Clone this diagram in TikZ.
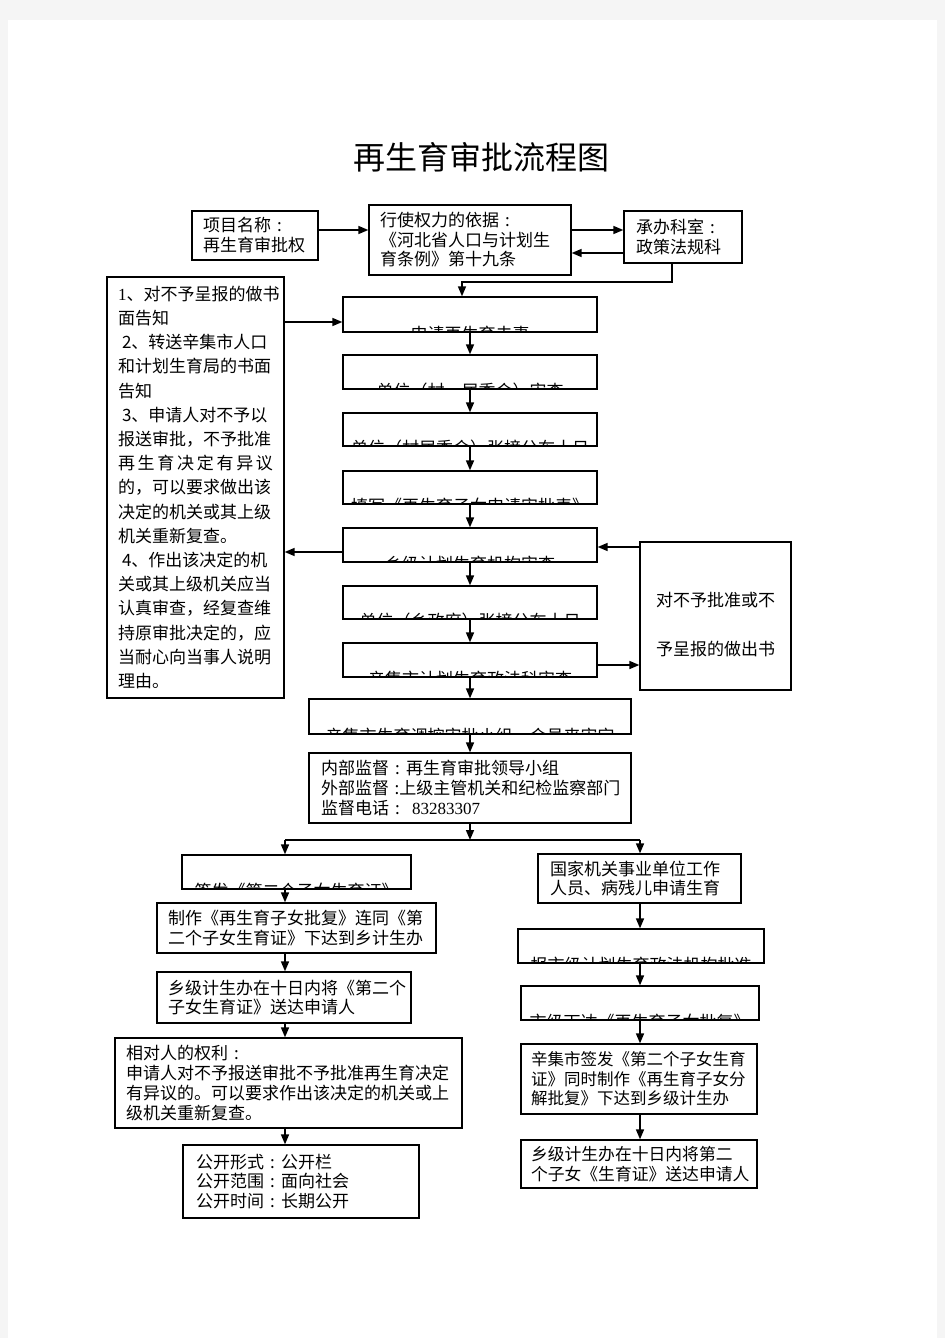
\documentclass[tikz,border=0pt]{standalone}
\usepackage{fontspec}
\setmainfont{Noto Sans CJK SC}
\newfontfamily\latserif{Liberation Serif}
\usetikzlibrary{arrows.meta}
\newcommand\qcolon{\makebox[1em][c]{:}}
\newcommand\clippedtext[3]{%
  \begin{scope}
    \clip ([xshift=1pt,yshift=1.3pt]#1.south west) rectangle ([xshift=-1pt,yshift=-1pt]#1.north east);
    \node[anchor=base, inner sep=0pt, font=\fontsize{17}{20}\selectfont] (#2) at ([yshift=-8pt]#1.south) {#3};
  \end{scope}}
\begin{document}
\begin{tikzpicture}[x=1pt,y=-1pt,
  box/.style={draw, line width=1.3pt, inner sep=0pt, font=\fontsize{17}{20}\selectfont},
  tbox/.style={box, align=left},
  conn/.style={line width=1.6pt},
  arr/.style={line width=1.6pt, -{Triangle[length=10pt,width=8pt]}}]
\useasboundingbox (0,0) rectangle (945,1338);
\fill[gray!8] (0,0) rectangle (945,1338);
\fill[white] (8,20) rectangle (937,1338);

\node[font=\fontsize{32}{36}\selectfont] (title) at (481,157) {再生育审批流程图};

% top row
\node[tbox, minimum width=126pt, minimum height=49pt, text width=104pt, inner xsep=11pt] (A) at (255,235.5) {项目名称\qcolon\\再生育审批权};
\node[tbox, minimum width=202pt, minimum height=70pt, text width=180pt, inner xsep=11pt, font=\fontsize{17}{19.5}\selectfont] (B) at (470,240) {行使权力的依据\qcolon\\《河北省人口与计划生\\育条例》第十九条};
\node[tbox, minimum width=118pt, minimum height=52pt, text width=94pt, inner xsep=12pt] (C) at (683,237) {承办科室\qcolon\\政策法规科};

% main column
\node[box, minimum width=254pt, minimum height=35pt] (b1) at (470,314.5) {};
\node[box, minimum width=254pt, minimum height=34pt] (b2) at (470,372) {};
\node[box, minimum width=254pt, minimum height=33pt] (b3) at (470,429.5) {};
\node[box, minimum width=254pt, minimum height=33pt] (b4) at (470,487.5) {};
\node[box, minimum width=254pt, minimum height=34pt] (b5) at (470,545) {};
\node[box, minimum width=254pt, minimum height=33pt] (b6) at (470,602.5) {};
\node[box, minimum width=254pt, minimum height=34pt] (b7) at (470,660) {};
\node[box, minimum width=322pt, minimum height=35pt] (b8) at (470,716.5) {};
\clippedtext{b1}{t1}{申请再生育夫妻}
\clippedtext{b2}{t2}{单位（村、居委会）审查}
\clippedtext{b3}{t3}{单位（村居委会）张榜公布十日}
\clippedtext{b4}{t4}{填写《再生育子女申请审批表》}
\clippedtext{b5}{t5}{乡级计划生育机构审查}
\clippedtext{b6}{t6}{单位（乡政府）张榜公布十日}
\clippedtext{b7}{t7}{辛集市计划生育政法科审查}
\clippedtext{b8}{t8}{辛集市生育调控审批小组，会员来审定}

\node[tbox, minimum width=322pt, minimum height=70pt, text width=298pt, inner xsep=12pt] (b9) at (470,788) {内部监督\qcolon 再生育审批领导小组\\\mbox{外部监督~:上级主管机关和纪检监察部门}\\监督电话\qcolon\hspace{6pt}{\latserif 83283307}};

% notes box (left)
\node[tbox, minimum width=177pt, minimum height=421pt, text width=155pt, inner xsep=11pt, font=\fontsize{17}{24.2}\selectfont] (N) at (195.5,487.5) {%
{\latserif 1}、对不予呈报的做书\\
面告知\\
\hspace{4pt}2、转送辛集市人口\\
和计划生育局的书面\\
告知\\
\hspace{4pt}3、申请人对不予以\\
报送审批，不予批准\\
再\hfill 生\hfill 育\hfill 决\hfill 定\hfill 有\hfill 异\hfill 议\\
的，可以要求做出该\\
决定的机关或其上级\\
机关重新复查。\\
\hspace{4pt}4、作出该决定的机\\
关或其上级机关应当\\
认真审查，经复查维\\
持原审批决定的，应\\
当耐心向当事人说明\\
理由。};

% right box
\node[box, minimum width=151pt, minimum height=148pt] (R) at (715.5,616) {};
\node[font=\fontsize{17}{49}\selectfont, align=center, inner sep=0pt] (Rt) at (715.5,624.5) {对不予批准或不\\予呈报的做出书};

% left branch
\node[box, minimum width=229pt, minimum height=34pt] (L1) at (296.5,872) {};
\clippedtext{L1}{tl1}{签发《第二个子女生育证》}
\node[tbox, minimum width=279pt, minimum height=50pt, text width=257pt, inner xsep=11pt] (L2) at (296.5,928) {制作《再生育子女批复》连同《第\\二个子女生育证》下达到乡计生办};
\node[tbox, minimum width=254pt, minimum height=51pt, text width=232pt, inner xsep=11pt, font=\fontsize{17}{19.5}\selectfont] (L3) at (284,997.5) {乡级计生办在十日内将《第二个\\子女生育证》送达申请人};
\node[tbox, minimum width=347pt, minimum height=90pt, text width=325pt, inner xsep=11pt, font=\fontsize{17}{19.7}\selectfont] (L4) at (288.5,1083) {相对人的权利\qcolon\\申请人对不予报送审批不予批准再生育决定\\有异议的。可以要求作出该决定的机关或上\\级机关重新复查。};
\node[tbox, minimum width=236pt, minimum height=73pt, text width=210pt, inner xsep=13pt, font=\fontsize{17}{19.2}\selectfont] (L5) at (301,1181.5) {公开形式\qcolon 公开栏\\公开范围\qcolon 面向社会\\公开时间\qcolon 长期公开};

% right branch
\node[tbox, minimum width=203pt, minimum height=49pt, text width=179pt, inner xsep=12pt, font=\fontsize{17}{19.5}\selectfont] (R1) at (639.5,878.5) {国家机关事业单位工作\\人员、病残儿申请生育};
\node[box, minimum width=246pt, minimum height=34pt] (R2) at (641,946) {};
\node[box, minimum width=238pt, minimum height=34pt] (R3) at (640,1003) {};
\clippedtext{R2}{tr2}{报市级计划生育政法机构批准}
\clippedtext{R3}{tr3}{市级下达《再生育子女批复》}
\node[tbox, minimum width=236pt, minimum height=70pt, text width=216pt, inner xsep=10pt, font=\fontsize{16.5}{19.5}\selectfont] (R4) at (639,1079) {辛集市签发《第二个子女生育\\证》同时制作《再生育子女分\\解批复》下达到乡级计生办};
\node[tbox, minimum width=236pt, minimum height=48pt, text width=216pt, inner xsep=10pt, font=\fontsize{16.8}{20}\selectfont] (R5) at (639,1164) {乡级计生办在十日内将第二\\个子女《生育证》送达申请人};

% coordinates
\coordinate (cA) at (0,230);
\coordinate (cBC) at (0,230);
\coordinate (cCB) at (0,253);
\coordinate (c1) at (672,282);
\coordinate (c2) at (462,282);
\coordinate (yN1) at (0,322);
\coordinate (yN2) at (0,552);
\coordinate (yR1) at (0,547);
\coordinate (yR2) at (0,665);
\coordinate (sp) at (470,840);
\coordinate (spl) at (285,840);
\coordinate (spr) at (640,840);

% connectors top
\draw[arr] (A.east |- cA) -- (B.west |- cA);
\draw[arr] (B.east |- cBC) -- (C.west |- cBC);
\draw[arr] (C.west |- cCB) -- (B.east |- cCB);
\draw[arr] (C.south -| c1) -- (c1) -- (c2) -- (c2 |- b1.north);

% main column
\draw[arr] (b1) -- (b2);
\draw[arr] (b2) -- (b3);
\draw[arr] (b3) -- (b4);
\draw[arr] (b4) -- (b5);
\draw[arr] (b5) -- (b6);
\draw[arr] (b6) -- (b7);
\draw[arr] (b7) -- (b8);
\draw[arr] (b8) -- (b9);

% side connectors
\draw[arr] (N.east |- yN1) -- (b1.west |- yN1);
\draw[arr] (b5.west |- yN2) -- (N.east |- yN2);
\draw[arr] (R.west |- yR1) -- (b5.east |- yR1);
\draw[arr] (b7.east |- yR2) -- (R.west |- yR2);

% split
\draw[arr] (b9.south) -- (sp);
\draw[conn] (spl) -- (spr);
\draw[arr] (spl) -- (spl |- L1.north);
\draw[arr] (spr) -- (spr |- R1.north);

% left branch
\draw[arr] (L1.south -| spl) -- (L2.north -| spl);
\draw[arr] (L2.south -| spl) -- (L3.north -| spl);
\draw[arr] (L3.south -| spl) -- (L4.north -| spl);
\draw[arr] (L4.south -| spl) -- (L5.north -| spl);

% right branch
\draw[arr] (R1.south -| spr) -- (R2.north -| spr);
\draw[arr] (R2.south -| spr) -- (R3.north -| spr);
\draw[arr] (R3.south -| spr) -- (R4.north -| spr);
\draw[arr] (R4.south -| spr) -- (R5.north -| spr);
\end{tikzpicture}
\end{document}
